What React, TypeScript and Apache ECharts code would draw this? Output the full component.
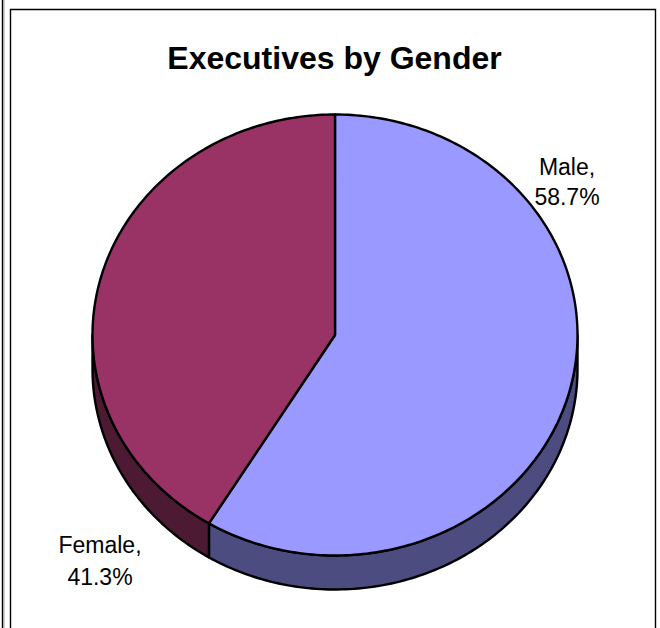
import React, { useEffect, useRef } from "react";
import * as echarts from "echarts";

const categories = ["Male", "Female"];
const values = [58.7, 41.3];
const topColors = ["#9999FF", "#993366"];
const sideColors = ["#4C4C80", "#4D1A33"];
const titleText = "Executives by Gender";

const CX = 335;
const CY = 335;
const RX = 242.5;
const RY = 220.5;
const DEPTH = 34;
const FONT = "'Liberation Sans', Arial, sans-serif";

function pt(deg: number): [number, number] {
  const r = (deg * Math.PI) / 180;
  return [CX + RX * Math.sin(r), CY - RY * Math.cos(r)];
}

function arcPoints(a: number, b: number): [number, number][] {
  const pts: [number, number][] = [];
  const n = Math.max(2, Math.ceil(Math.abs(b - a)));
  for (let i = 0; i <= n; i++) pts.push(pt(a + ((b - a) * i) / n));
  return pts;
}

function sliceRange(idx: number): [number, number] {
  const total = values.reduce((s, v) => s + v, 0);
  let start = 0;
  for (let i = 0; i < idx; i++) start += values[i];
  return [(start / total) * 360, ((start + values[idx]) / total) * 360];
}

export default function App() {
  const ref = useRef<HTMLDivElement>(null);
  useEffect(() => {
    if (!ref.current) return;
    const chart = echarts.init(ref.current, null, { renderer: "svg" });
    const data = categories.map((c, i) => ({ name: c, value: values[i] }));
    chart.setOption({
      animation: false,
      backgroundColor: "#ffffff",
      graphic: [
        { type: "line", shape: { x1: 2.5, y1: 0, x2: 2.5, y2: 628 }, style: { stroke: "#000", lineWidth: 1.4 } },
        { type: "line", shape: { x1: 4, y1: 0, x2: 4, y2: 628 }, style: { stroke: "#999", lineWidth: 1 } },
        { type: "rect", shape: { x: 10.5, y: 9.5, width: 645, height: 640 }, style: { fill: "none", stroke: "#000", lineWidth: 1.4 } },
        {
          type: "text",
          x: 334.5,
          y: 58,
          style: { text: titleText, font: `bold 32px ${FONT}`, fill: "#000", align: "center", verticalAlign: "middle" },
        },
        {
          type: "text",
          x: 567,
          y: 182,
          style: {
            text: `${categories[0]},\n${values[0].toFixed(1)}%`,
            font: `23px ${FONT}`,
            lineHeight: 30,
            fill: "#000",
            align: "center",
            verticalAlign: "middle",
          },
        },
        {
          type: "text",
          x: 100,
          y: 561,
          style: {
            text: `${categories[1]},\n${values[1].toFixed(1)}%`,
            font: `23px ${FONT}`,
            lineHeight: 32,
            fill: "#000",
            align: "center",
            verticalAlign: "middle",
          },
        },
      ],
      series: [
        {
          type: "custom",
          coordinateSystem: "none",
          z: 1,
          data,
          renderItem: (params: any) => {
            const i = params.dataIndex;
            const [a, b] = sliceRange(i);
            const s = Math.max(a, 90);
            const e = Math.min(b, 270);
            if (e <= s) return { type: "group", children: [] };
            const top = arcPoints(s, e);
            const bottom = top.slice().reverse().map(([x, y]) => [x, y + DEPTH]);
            return {
              type: "polygon",
              shape: { points: [...top, ...bottom] },
              style: { fill: sideColors[i], stroke: "#000", lineWidth: 2.4, lineJoin: "round" },
            };
          },
        },
        {
          type: "custom",
          coordinateSystem: "none",
          z: 2,
          data,
          renderItem: (params: any) => {
            const i = params.dataIndex;
            const [a, b] = sliceRange(i);
            const pts = [[CX, CY], ...arcPoints(a, b)];
            return {
              type: "polygon",
              shape: { points: pts },
              style: { fill: topColors[i], stroke: "#000", lineWidth: 2.4, lineJoin: "round" },
            };
          },
        },
      ],
    });
    return () => chart.dispose();
  }, []);
  return (
    <div
      ref={ref}
      style={{ position: "absolute", left: 0, top: 0, width: 660, height: 628 }}
    />
  );
}
